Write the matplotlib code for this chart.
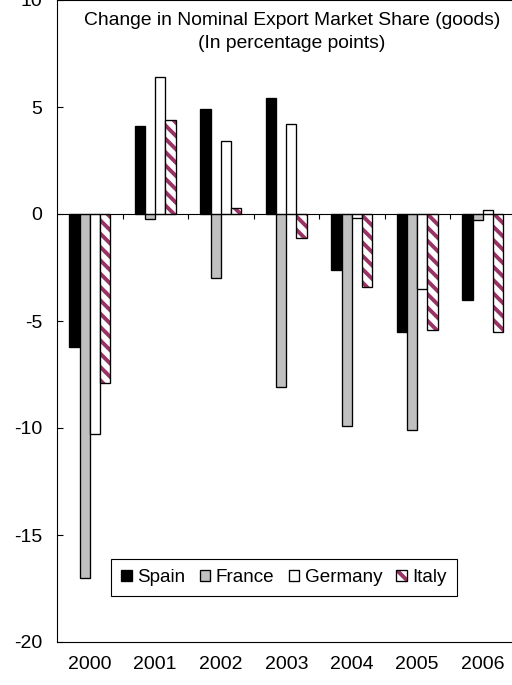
import matplotlib.pyplot as plt
from matplotlib.legend_handler import HandlerTuple
import numpy as np

plt.rcParams['font.family'] = ['Liberation Sans', 'DejaVu Sans']
plt.rcParams['hatch.linewidth'] = 3.5
plt.rcParams['axes.unicode_minus'] = False

years = ['2000', '2001', '2002', '2003', '2004', '2005', '2006']
spain = [-6.2, 4.1, 4.9, 5.4, -2.6, -5.5, -4.0]
france = [-17.0, -0.25, -3.0, -8.1, -9.9, -10.1, -0.28]
germany = [-10.3, 6.4, 3.4, 4.2, -0.19, -3.5, 0.17]
italy = [-7.9, 4.4, 0.3, -1.1, -3.4, -5.4, -5.5]

plum = '#993366'
dpi = 80
fig = plt.figure(figsize=(512 / dpi, 685 / dpi), dpi=dpi)
ax = fig.add_axes([57 / 512, 43 / 685, 458.5 / 512, 642 / 685])

x = np.arange(len(years))
w = 0.155
lw = 1.2

b_spain = ax.bar(x - 1.5 * w, spain, w, color='black', edgecolor='black', linewidth=lw, zorder=2)
b_france = ax.bar(x - 0.5 * w, france, w, color='#c0c0c0', edgecolor='black', linewidth=lw, zorder=2)
b_germany = ax.bar(x + 0.5 * w, germany, w, color='white', edgecolor='black', linewidth=lw, zorder=2)
# hatched fill first, then the black outline on top
b_italy_h = ax.bar(x + 1.5 * w, italy, w, color='white', edgecolor=plum, hatch='\\\\',
                   linewidth=0, zorder=2)
b_italy = ax.bar(x + 1.5 * w, italy, w, color='none', edgecolor='black', linewidth=lw, zorder=3)

# zero line with category separators
ax.axhline(0, color='black', linewidth=1.0, zorder=4)
ax.vlines(x[:-1] + 0.5, -0.25, 0, color='black', linewidth=1.0, zorder=4)

ax.set_xlim(-0.5, len(years) - 0.5)
ax.set_ylim(-20, 10)
ax.set_yticks(range(-20, 11, 5))
ax.set_xticks(x)
ax.set_xticklabels(years)
ax.tick_params(axis='y', direction='in', length=5, width=1, pad=13, labelsize=17.5)
ax.tick_params(axis='x', length=0, pad=13, labelsize=17.5)
for s in ax.spines.values():
    s.set_linewidth(1.0)

ax.text(0.512, 0.982, 'Change in Nominal Export Market Share (goods)\n(In percentage points)',
        transform=ax.transAxes, ha='center', va='top', fontsize=17.3, linespacing=1.5)

fig.legend([b_spain, b_france, b_germany, (b_italy_h, b_italy)],
           ['Spain', 'France', 'Germany', 'Italy'],
           handler_map={tuple: HandlerTuple(ndivide=1, pad=0)},
           loc='center', bbox_to_anchor=(0.555, 0.157), ncol=4, fontsize=17,
           frameon=True, fancybox=False, edgecolor='black', framealpha=1,
           handlelength=0.55, handleheight=0.55, handletextpad=0.3,
           columnspacing=0.75, borderpad=0.55, borderaxespad=0)

fig.savefig('out.png', dpi=dpi)
